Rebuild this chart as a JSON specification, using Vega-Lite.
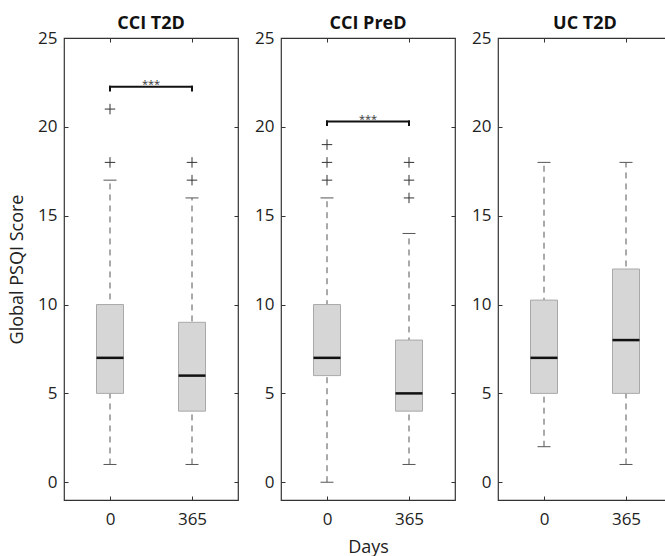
{
  "$schema": "https://vega.github.io/schema/vega-lite/v6.json",
  "background": "white",
  "padding": {"left": 7, "top": 14, "right": 0, "bottom": 0},
  "datasets": {
    "boxes": [
      {"group": "CCI T2D", "day": 0, "lower": 1, "q1": 5, "median": 7, "q3": 10, "upper": 17},
      {"group": "CCI T2D", "day": 365, "lower": 1, "q1": 4, "median": 6, "q3": 9, "upper": 16},
      {"group": "CCI PreD", "day": 0, "lower": 0, "q1": 6, "median": 7, "q3": 10, "upper": 16},
      {"group": "CCI PreD", "day": 365, "lower": 1, "q1": 4, "median": 5, "q3": 8, "upper": 14},
      {"group": "UC T2D", "day": 0, "lower": 2, "q1": 5, "median": 7, "q3": 10.25, "upper": 18},
      {"group": "UC T2D", "day": 365, "lower": 1, "q1": 5, "median": 8, "q3": 12, "upper": 18}
    ],
    "outliers": [
      {"group": "CCI T2D", "day": 0, "value": 18},
      {"group": "CCI T2D", "day": 0, "value": 21},
      {"group": "CCI T2D", "day": 365, "value": 17},
      {"group": "CCI T2D", "day": 365, "value": 18},
      {"group": "CCI PreD", "day": 0, "value": 17},
      {"group": "CCI PreD", "day": 0, "value": 18},
      {"group": "CCI PreD", "day": 0, "value": 19},
      {"group": "CCI PreD", "day": 365, "value": 16},
      {"group": "CCI PreD", "day": 365, "value": 17},
      {"group": "CCI PreD", "day": 365, "value": 18}
    ],
    "brackets": [
      {"group": "CCI T2D", "x1": 0, "x2": 365, "mid": 182.5, "y": 22.25, "tip": 22.05, "stars": "***"},
      {"group": "CCI PreD", "x1": 0, "x2": 365, "mid": 182.5, "y": 20.3, "tip": 20.1, "stars": "***"}
    ]
  },
  "config": {
    "font": "Open Sans",
    "view": {"stroke": "#333333", "strokeWidth": 1.2},
    "axis": {
      "domain": false, "grid": false, "tickColor": "#333333", "tickSize": -4, "tickWidth": 1,
      "labelFont": "Open Sans", "labelFontSize": 17, "labelColor": "#222222",
      "titleFont": "Open Sans", "titleFontSize": 18, "titleFontWeight": "normal", "titleColor": "#222222"
    },
    "title": {"font": "Open Sans", "fontSize": 18, "fontWeight": "bold", "color": "#111111", "offset": 0, "dy": 8}
  },
  "spacing": 43,
  "bounds": "flush",
  "hconcat": [
    {
      "width": 174, "height": 462,
      "title": "CCI T2D",
      "resolve": {"axis": {"x": "independent", "y": "independent"}},
      "layer": [
        {
          "data": {"name": "boxes"},
          "transform": [{"filter": "datum.group === 'CCI T2D'"}],
          "mark": {"type": "rule", "color": "#555555", "strokeDash": [6, 5], "strokeWidth": 1},
          "encoding": {
            "x": {"field": "day", "type": "quantitative", "scale": {"domain": [-182.5, 547.5], "nice": false, "zero": false}, "axis": {"orient": "bottom", "values": [0, 365], "labelPadding": 15, "title": null}},
            "y": {"field": "lower", "type": "quantitative", "scale": {"domain": [-1, 25], "nice": false, "zero": false}, "axis": {"orient": "left", "values": [0, 5, 10, 15, 20, 25], "labelPadding": 11, "title": "Global PSQI Score", "titlePadding": 11}},
            "y2": {"field": "upper"}
          }
        },
        {
          "data": {"name": "boxes"},
          "transform": [{"filter": "datum.group === 'CCI T2D'"}],
          "mark": {"type": "tick", "orient": "horizontal", "size": 13, "thickness": 1, "color": "#555555", "opacity": 1},
          "encoding": {
            "x": {"field": "day", "type": "quantitative", "axis": {"orient": "top", "values": [0, 365], "labels": false, "title": null}},
            "y": {"field": "lower", "type": "quantitative", "axis": {"orient": "right", "values": [0, 5, 10, 15, 20, 25], "labels": false, "title": null}}
          }
        },
        {
          "data": {"name": "boxes"},
          "transform": [{"filter": "datum.group === 'CCI T2D'"}],
          "mark": {"type": "tick", "orient": "horizontal", "size": 13, "thickness": 1, "color": "#555555", "opacity": 1},
          "encoding": {
            "x": {"field": "day", "type": "quantitative", "axis": null},
            "y": {"field": "upper", "type": "quantitative", "axis": null}
          }
        },
        {
          "data": {"name": "boxes"},
          "transform": [{"filter": "datum.group === 'CCI T2D'"}],
          "mark": {"type": "bar", "width": 27, "fill": "#d6d6d6", "stroke": "#a9a9a9", "strokeWidth": 1},
          "encoding": {
            "x": {"field": "day", "type": "quantitative", "axis": null},
            "y": {"field": "q1", "type": "quantitative", "axis": null},
            "y2": {"field": "q3"}
          }
        },
        {
          "data": {"name": "boxes"},
          "transform": [{"filter": "datum.group === 'CCI T2D'"}],
          "mark": {"type": "tick", "orient": "horizontal", "size": 27, "thickness": 2.5, "color": "#111111", "opacity": 1},
          "encoding": {
            "x": {"field": "day", "type": "quantitative", "axis": null},
            "y": {"field": "median", "type": "quantitative", "axis": null}
          }
        },
        {
          "data": {"name": "outliers"},
          "transform": [{"filter": "datum.group === 'CCI T2D'"}],
          "mark": {"type": "point", "shape": "M-1,0L1,0M0,-1L0,1", "size": 110, "filled": false, "color": "#333333", "strokeWidth": 1, "opacity": 1},
          "encoding": {
            "x": {"field": "day", "type": "quantitative", "axis": null},
            "y": {"field": "value", "type": "quantitative", "axis": null}
          }
        },
        {
          "data": {"name": "brackets"},
          "transform": [{"filter": "datum.group === 'CCI T2D'"}],
          "mark": {"type": "rule", "color": "#111111", "strokeWidth": 2, "strokeCap": "square"},
          "encoding": {
            "x": {"field": "x1", "type": "quantitative", "axis": null},
            "x2": {"field": "x2"},
            "y": {"field": "y", "type": "quantitative", "axis": null}
          }
        },
        {
          "data": {"name": "brackets"},
          "transform": [{"filter": "datum.group === 'CCI T2D'"}],
          "mark": {"type": "rule", "color": "#111111", "strokeWidth": 2, "strokeCap": "square"},
          "encoding": {
            "x": {"field": "x1", "type": "quantitative", "axis": null},
            "y": {"field": "y", "type": "quantitative", "axis": null},
            "y2": {"field": "tip"}
          }
        },
        {
          "data": {"name": "brackets"},
          "transform": [{"filter": "datum.group === 'CCI T2D'"}],
          "mark": {"type": "rule", "color": "#111111", "strokeWidth": 2, "strokeCap": "square"},
          "encoding": {
            "x": {"field": "x2", "type": "quantitative", "axis": null},
            "y": {"field": "y", "type": "quantitative", "axis": null},
            "y2": {"field": "tip"}
          }
        },
        {
          "data": {"name": "brackets"},
          "transform": [{"filter": "datum.group === 'CCI T2D'"}],
          "mark": {"type": "text", "fontSize": 11, "color": "#333333", "baseline": "alphabetic", "dy": 1},
          "encoding": {
            "x": {"field": "mid", "type": "quantitative", "axis": null},
            "y": {"field": "y", "type": "quantitative", "axis": null},
            "text": {"field": "stars"}
          }
        }
      ]
    },
    {
      "width": 174, "height": 462,
      "title": "CCI PreD",
      "resolve": {"axis": {"x": "independent", "y": "independent"}},
      "layer": [
        {
          "data": {"name": "boxes"},
          "transform": [{"filter": "datum.group === 'CCI PreD'"}],
          "mark": {"type": "rule", "color": "#555555", "strokeDash": [6, 5], "strokeWidth": 1},
          "encoding": {
            "x": {"field": "day", "type": "quantitative", "scale": {"domain": [-182.5, 547.5], "nice": false, "zero": false}, "axis": {"orient": "bottom", "values": [0, 365], "labelPadding": 15, "title": "Days", "titlePadding": 11}},
            "y": {"field": "lower", "type": "quantitative", "scale": {"domain": [-1, 25], "nice": false, "zero": false}, "axis": {"orient": "left", "values": [0, 5, 10, 15, 20, 25], "labelPadding": 11, "title": null}},
            "y2": {"field": "upper"}
          }
        },
        {
          "data": {"name": "boxes"},
          "transform": [{"filter": "datum.group === 'CCI PreD'"}],
          "mark": {"type": "tick", "orient": "horizontal", "size": 13, "thickness": 1, "color": "#555555", "opacity": 1},
          "encoding": {
            "x": {"field": "day", "type": "quantitative", "axis": {"orient": "top", "values": [0, 365], "labels": false, "title": null}},
            "y": {"field": "lower", "type": "quantitative", "axis": {"orient": "right", "values": [0, 5, 10, 15, 20, 25], "labels": false, "title": null}}
          }
        },
        {
          "data": {"name": "boxes"},
          "transform": [{"filter": "datum.group === 'CCI PreD'"}],
          "mark": {"type": "tick", "orient": "horizontal", "size": 13, "thickness": 1, "color": "#555555", "opacity": 1},
          "encoding": {
            "x": {"field": "day", "type": "quantitative", "axis": null},
            "y": {"field": "upper", "type": "quantitative", "axis": null}
          }
        },
        {
          "data": {"name": "boxes"},
          "transform": [{"filter": "datum.group === 'CCI PreD'"}],
          "mark": {"type": "bar", "width": 27, "fill": "#d6d6d6", "stroke": "#a9a9a9", "strokeWidth": 1},
          "encoding": {
            "x": {"field": "day", "type": "quantitative", "axis": null},
            "y": {"field": "q1", "type": "quantitative", "axis": null},
            "y2": {"field": "q3"}
          }
        },
        {
          "data": {"name": "boxes"},
          "transform": [{"filter": "datum.group === 'CCI PreD'"}],
          "mark": {"type": "tick", "orient": "horizontal", "size": 27, "thickness": 2.5, "color": "#111111", "opacity": 1},
          "encoding": {
            "x": {"field": "day", "type": "quantitative", "axis": null},
            "y": {"field": "median", "type": "quantitative", "axis": null}
          }
        },
        {
          "data": {"name": "outliers"},
          "transform": [{"filter": "datum.group === 'CCI PreD'"}],
          "mark": {"type": "point", "shape": "M-1,0L1,0M0,-1L0,1", "size": 110, "filled": false, "color": "#333333", "strokeWidth": 1, "opacity": 1},
          "encoding": {
            "x": {"field": "day", "type": "quantitative", "axis": null},
            "y": {"field": "value", "type": "quantitative", "axis": null}
          }
        },
        {
          "data": {"name": "brackets"},
          "transform": [{"filter": "datum.group === 'CCI PreD'"}],
          "mark": {"type": "rule", "color": "#111111", "strokeWidth": 2, "strokeCap": "square"},
          "encoding": {
            "x": {"field": "x1", "type": "quantitative", "axis": null},
            "x2": {"field": "x2"},
            "y": {"field": "y", "type": "quantitative", "axis": null}
          }
        },
        {
          "data": {"name": "brackets"},
          "transform": [{"filter": "datum.group === 'CCI PreD'"}],
          "mark": {"type": "rule", "color": "#111111", "strokeWidth": 2, "strokeCap": "square"},
          "encoding": {
            "x": {"field": "x1", "type": "quantitative", "axis": null},
            "y": {"field": "y", "type": "quantitative", "axis": null},
            "y2": {"field": "tip"}
          }
        },
        {
          "data": {"name": "brackets"},
          "transform": [{"filter": "datum.group === 'CCI PreD'"}],
          "mark": {"type": "rule", "color": "#111111", "strokeWidth": 2, "strokeCap": "square"},
          "encoding": {
            "x": {"field": "x2", "type": "quantitative", "axis": null},
            "y": {"field": "y", "type": "quantitative", "axis": null},
            "y2": {"field": "tip"}
          }
        },
        {
          "data": {"name": "brackets"},
          "transform": [{"filter": "datum.group === 'CCI PreD'"}],
          "mark": {"type": "text", "fontSize": 11, "color": "#333333", "baseline": "alphabetic", "dy": 1},
          "encoding": {
            "x": {"field": "mid", "type": "quantitative", "axis": null},
            "y": {"field": "y", "type": "quantitative", "axis": null},
            "text": {"field": "stars"}
          }
        }
      ]
    },
    {
      "width": 174, "height": 462,
      "title": "UC T2D",
      "resolve": {"axis": {"x": "independent", "y": "independent"}},
      "layer": [
        {
          "data": {"name": "boxes"},
          "transform": [{"filter": "datum.group === 'UC T2D'"}],
          "mark": {"type": "rule", "color": "#555555", "strokeDash": [6, 5], "strokeWidth": 1},
          "encoding": {
            "x": {"field": "day", "type": "quantitative", "scale": {"domain": [-182.5, 547.5], "nice": false, "zero": false}, "axis": {"orient": "bottom", "values": [0, 365], "labelPadding": 15, "title": null}},
            "y": {"field": "lower", "type": "quantitative", "scale": {"domain": [-1, 25], "nice": false, "zero": false}, "axis": {"orient": "left", "values": [0, 5, 10, 15, 20, 25], "labelPadding": 11, "title": null}},
            "y2": {"field": "upper"}
          }
        },
        {
          "data": {"name": "boxes"},
          "transform": [{"filter": "datum.group === 'UC T2D'"}],
          "mark": {"type": "tick", "orient": "horizontal", "size": 13, "thickness": 1, "color": "#555555", "opacity": 1},
          "encoding": {
            "x": {"field": "day", "type": "quantitative", "axis": {"orient": "top", "values": [0, 365], "labels": false, "title": null}},
            "y": {"field": "lower", "type": "quantitative", "axis": {"orient": "right", "values": [0, 5, 10, 15, 20, 25], "labels": false, "title": null}}
          }
        },
        {
          "data": {"name": "boxes"},
          "transform": [{"filter": "datum.group === 'UC T2D'"}],
          "mark": {"type": "tick", "orient": "horizontal", "size": 13, "thickness": 1, "color": "#555555", "opacity": 1},
          "encoding": {
            "x": {"field": "day", "type": "quantitative", "axis": null},
            "y": {"field": "upper", "type": "quantitative", "axis": null}
          }
        },
        {
          "data": {"name": "boxes"},
          "transform": [{"filter": "datum.group === 'UC T2D'"}],
          "mark": {"type": "bar", "width": 27, "fill": "#d6d6d6", "stroke": "#a9a9a9", "strokeWidth": 1},
          "encoding": {
            "x": {"field": "day", "type": "quantitative", "axis": null},
            "y": {"field": "q1", "type": "quantitative", "axis": null},
            "y2": {"field": "q3"}
          }
        },
        {
          "data": {"name": "boxes"},
          "transform": [{"filter": "datum.group === 'UC T2D'"}],
          "mark": {"type": "tick", "orient": "horizontal", "size": 27, "thickness": 2.5, "color": "#111111", "opacity": 1},
          "encoding": {
            "x": {"field": "day", "type": "quantitative", "axis": null},
            "y": {"field": "median", "type": "quantitative", "axis": null}
          }
        }
      ]
    }
  ]
}
